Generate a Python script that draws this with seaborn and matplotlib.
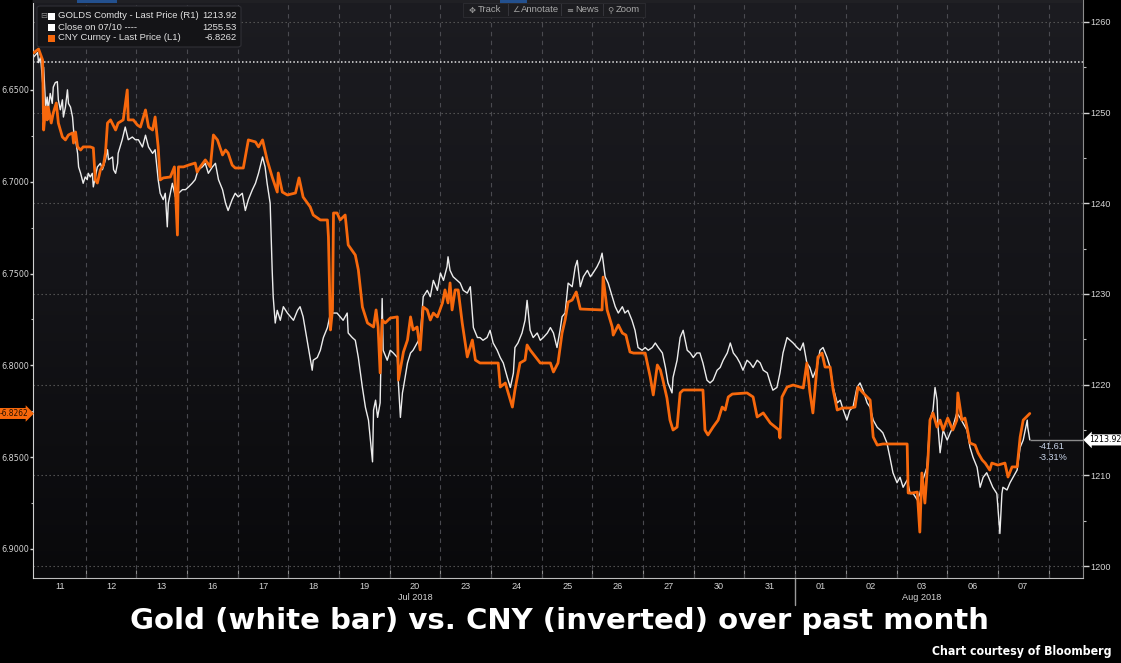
import numpy as np
import pandas as pd
import matplotlib
matplotlib.use('Agg')
import matplotlib.pyplot as plt
import matplotlib.transforms as mtransforms
from matplotlib.colors import LinearSegmentedColormap
from matplotlib.patches import Rectangle, FancyBboxPatch
import seaborn as sns

# ---- values ----
# x is the trading session (0 = 11 Jul 2018, 1 = 12 Jul, ...), fractions are intraday
cny_day = [-0.03, 0.07, 0.15, 0.17, 0.21, 0.24, 0.26, 0.32, 0.36, 0.42, 0.46, 0.54, 0.60, 0.66, 0.74, 0.76, 0.80, 0.84, 0.90, 0.95,
           1.09, 1.15, 1.19, 1.23, 1.29, 1.35, 1.39, 1.43, 1.49, 1.59, 1.64, 1.74, 1.82, 1.84, 1.94,
           2.02, 2.08, 2.18, 2.24, 2.32, 2.37, 2.43, 2.47, 2.53, 2.67, 2.75, 2.81, 2.83, 2.93,
           3.03, 3.16, 3.20, 3.26, 3.36, 3.46, 3.52, 3.60, 3.70, 3.76, 3.81, 3.89, 3.95,
           4.11, 4.21, 4.35, 4.41, 4.49, 4.58, 4.68, 4.78, 4.80, 4.88, 4.98,
           5.14, 5.21, 5.29, 5.43, 5.49, 5.63, 5.77, 5.79, 5.83, 5.87, 5.89, 5.96,
           6.02, 6.12, 6.18, 6.32, 6.38, 6.46, 6.56, 6.68, 6.73, 6.77, 6.81, 6.85, 6.91,
           7.01, 7.15, 7.17, 7.27, 7.35, 7.41, 7.46, 7.54, 7.60, 7.66, 7.74, 7.80, 7.86, 7.94,
           8.04, 8.09, 8.15, 8.19, 8.23, 8.29, 8.35, 8.43, 8.53, 8.63, 8.69, 8.78,
           9.14, 9.18, 9.28, 9.42, 9.47, 9.57, 9.67, 9.71, 9.77, 9.97,
           10.17, 10.23, 10.32, 10.40, 10.46, 10.52, 10.60, 10.68, 10.76,
           11.19, 11.21, 11.29, 11.39, 11.41, 11.51, 11.59, 11.66, 11.74, 11.81,
           12.04, 12.14, 12.20, 12.28, 12.34, 12.39, 12.47, 12.53, 12.59, 12.67, 12.73, 12.79,
           13.18, 13.22, 13.28, 13.38, 13.48, 13.56, 13.62, 13.68, 13.76,
           14.05, 14.17, 14.25, 14.37, 14.51, 14.68, 14.70, 14.74, 14.84, 14.96,
           15.16, 15.23, 15.29, 15.35, 15.45, 15.53, 15.59, 15.69, 15.75, 15.83, 15.93,
           16.08, 16.18, 16.24, 16.34, 16.48, 16.54, 16.62, 16.73,
           17.21, 17.23, 17.31, 17.41, 17.46, 17.50, 17.56, 17.62, 17.66, 17.72, 17.80, 17.86, 17.92,
           18.01, 18.11, 18.19, 18.21, 18.29, 18.35, 18.39, 18.45, 18.55, 18.61, 18.69, 18.75, 18.84, 18.88,
           19.00, 19.14, 19.20, 19.28, 19.38, 19.44, 19.50, 19.63]
cny_rate = [6.6298, 6.6277, 6.6337, 6.6718, 6.6593, 6.6663, 6.6593, 6.6680, 6.6625, 6.6571, 6.6680, 6.6756, 6.6772, 6.6745, 6.6734, 6.6789, 6.6729, 6.6810, 6.6827, 6.6810,
            6.6810, 6.6816, 6.6990, 6.7007, 6.6936, 6.6909, 6.6843, 6.6680, 6.6663, 6.6718, 6.6680, 6.6663, 6.6500, 6.6663, 6.6663,
            6.6691, 6.6702, 6.6609, 6.6702, 6.6718, 6.6647, 6.6810, 6.6990, 6.6979, 6.6974, 6.6919, 6.7290, 6.6919, 6.6919,
            6.6909, 6.6898, 6.6947, 6.6919, 6.6881, 6.6919, 6.6745, 6.6772, 6.6854, 6.6827, 6.6843, 6.6909, 6.6925,
            6.6925, 6.6772, 6.6783, 6.6810, 6.6772, 6.6881, 6.6974, 6.7056, 6.6952, 6.7056, 6.7072,
            6.7061, 6.6979, 6.7083, 6.7137, 6.7181, 6.7208, 6.7208, 6.7301, 6.7807, 6.7698, 6.7170, 6.7170,
            6.7208, 6.7181, 6.7344, 6.7399, 6.7480, 6.7682, 6.7769, 6.7791, 6.7698, 6.7791, 6.8041, 6.7753, 6.7769,
            6.7742, 6.7736, 6.8080, 6.7927, 6.7862, 6.7736, 6.7807, 6.7791, 6.7916, 6.7682, 6.7698, 6.7753, 6.7715, 6.7736,
            6.7660, 6.7589, 6.7660, 6.7551, 6.7698, 6.7589, 6.7589, 6.7769, 6.7954, 6.7862, 6.7971, 6.7987,
            6.7987, 6.8118, 6.8096, 6.8227, 6.8134, 6.7987, 6.7971, 6.7889, 6.7916, 6.7987,
            6.7987, 6.8036, 6.7987, 6.7824, 6.7753, 6.7655, 6.7644, 6.7600, 6.7693,
            6.7698, 6.7519, 6.7698, 6.7791, 6.7835, 6.7780, 6.7824, 6.7835, 6.7927, 6.7933,
            6.7933, 6.8063, 6.8161, 6.7998, 6.8025, 6.8080, 6.8178, 6.8298, 6.8352, 6.8336, 6.8150, 6.8134,
            6.8134, 6.8352, 6.8379, 6.8336, 6.8298, 6.8227, 6.8243, 6.8172, 6.8156,
            6.8150, 6.8172, 6.8281, 6.8259, 6.8314, 6.8352, 6.8396, 6.8172, 6.8118, 6.8107,
            6.8123, 6.7987, 6.8145, 6.8259, 6.7954, 6.7933, 6.8009, 6.8009, 6.8134, 6.8243, 6.8232,
            6.8232, 6.8227, 6.8118, 6.8150, 6.8189, 6.8390, 6.8434, 6.8428,
            6.8428, 6.8695, 6.8695, 6.8690, 6.8908, 6.8586, 6.8750, 6.8515, 6.8298, 6.8259, 6.8336, 6.8298, 6.8352,
            6.8287, 6.8352, 6.8298, 6.8150, 6.8298, 6.8287, 6.8336, 6.8423, 6.8434, 6.8477, 6.8515, 6.8532, 6.8570, 6.8532,
            6.8543, 6.8532, 6.8608, 6.8553, 6.8553, 6.8390, 6.8298, 6.8262]

gold_day = [-0.03, 0.05, 0.07, 0.11, 0.15, 0.17, 0.21, 0.24, 0.26, 0.30, 0.34, 0.36, 0.40, 0.44, 0.46, 0.50, 0.54, 0.56, 0.60, 0.64, 0.66, 0.70, 0.74, 0.76, 0.80, 0.84, 0.86, 0.90, 0.95, 0.99,
            1.03, 1.05, 1.09, 1.13, 1.15, 1.19, 1.23, 1.29, 1.33, 1.39, 1.43, 1.45, 1.53, 1.55, 1.59, 1.63, 1.64, 1.72, 1.78, 1.84, 1.92, 1.98,
            2.04, 2.12, 2.18, 2.24, 2.32, 2.37, 2.43, 2.47, 2.53, 2.57, 2.61, 2.63, 2.71, 2.77, 2.83, 2.91, 2.97,
            3.03, 3.10, 3.16, 3.22, 3.30, 3.36, 3.42, 3.50, 3.56, 3.62, 3.70, 3.76, 3.81, 3.89, 3.95,
            4.01, 4.09, 4.15, 4.21, 4.29, 4.35, 4.41, 4.49, 4.54, 4.58, 4.64, 4.68, 4.70, 4.74, 4.78, 4.84, 4.90, 4.98,
            5.04, 5.10, 5.18, 5.23, 5.29, 5.37, 5.43, 5.47, 5.49, 5.57, 5.63, 5.69, 5.77, 5.83, 5.89, 5.96,
            6.02, 6.08, 6.16, 6.18, 6.26, 6.32, 6.38, 6.46, 6.52, 6.58, 6.66, 6.68, 6.72, 6.76, 6.81, 6.85, 6.87, 6.95,
            7.01, 7.07, 7.15, 7.17, 7.21, 7.25, 7.27, 7.35, 7.41, 7.46, 7.54, 7.60, 7.66, 7.74, 7.80, 7.86, 7.94,
            8.00, 8.06, 8.13, 8.15, 8.19, 8.25, 8.33, 8.39, 8.45, 8.53, 8.59, 8.65, 8.73, 8.78, 8.84, 8.92, 8.98,
            9.04, 9.12, 9.18, 9.24, 9.32, 9.38, 9.44, 9.47, 9.53, 9.61, 9.67, 9.71, 9.77, 9.83, 9.91, 9.97,
            10.03, 10.11, 10.17, 10.23, 10.30, 10.36, 10.40, 10.46, 10.52, 10.60, 10.66, 10.70, 10.76, 10.82, 10.90, 10.96,
            11.01, 11.09, 11.15, 11.19, 11.25, 11.31, 11.39, 11.45, 11.51, 11.59, 11.64, 11.70, 11.78, 11.84, 11.90, 11.98,
            12.04, 12.10, 12.18, 12.24, 12.30, 12.38, 12.44, 12.49, 12.57, 12.59, 12.67, 12.73, 12.79, 12.87, 12.93, 12.99,
            13.06, 13.12, 13.18, 13.26, 13.32, 13.38, 13.46, 13.52, 13.58, 13.66, 13.72, 13.78, 13.85, 13.91, 13.97,
            14.05, 14.11, 14.17, 14.25, 14.31, 14.37, 14.45, 14.51, 14.56, 14.64, 14.70, 14.76, 14.84, 14.90, 14.96,
            15.04, 15.10, 15.16, 15.23, 15.29, 15.35, 15.43, 15.49, 15.55, 15.63, 15.69, 15.75, 15.83, 15.89, 15.95,
            16.02, 16.08, 16.14, 16.22, 16.28, 16.34, 16.42, 16.48, 16.54, 16.62, 16.68, 16.73, 16.81, 16.87, 16.93,
            17.01, 17.07, 17.13, 17.21, 17.27, 17.33, 17.41, 17.46, 17.52, 17.60, 17.66, 17.72, 17.76, 17.80, 17.82, 17.86, 17.92,
            18.00, 18.06, 18.11, 18.19, 18.25, 18.31, 18.39, 18.45, 18.51, 18.59, 18.65, 18.71, 18.78, 18.84, 18.90, 18.98,
            19.04, 19.08, 19.10, 19.18, 19.24, 19.30, 19.38, 19.44, 19.50, 19.58, 19.59, 19.63]
gold_price = [1256.1, 1256.6, 1255.5, 1256.1, 1253.3, 1255.0, 1250.6, 1251.7, 1250.3, 1252.1, 1251.0, 1252.8, 1253.3, 1253.4, 1251.4, 1250.3, 1251.4, 1249.5, 1250.6, 1252.5, 1251.0, 1250.6, 1249.5, 1248.1, 1247.0, 1245.5, 1244.0, 1243.3, 1242.2, 1242.9,
              1242.6, 1243.3, 1242.9, 1243.3, 1241.8, 1242.9, 1244.0, 1244.4, 1243.7, 1244.8, 1245.9, 1244.8, 1245.1, 1243.7, 1243.3, 1244.4, 1245.5, 1247.0, 1248.4, 1247.0, 1247.3, 1247.0,
              1247.0, 1246.2, 1247.5, 1246.2, 1245.5, 1245.9, 1242.6, 1241.1, 1240.4, 1241.1, 1237.4, 1240.0, 1242.2, 1240.7, 1241.1, 1241.5, 1241.5,
              1241.8, 1242.2, 1242.6, 1243.7, 1244.0, 1244.4, 1243.3, 1244.0, 1244.4, 1242.6, 1241.5, 1240.0, 1239.2, 1240.4, 1241.1,
              1240.7, 1241.1, 1239.2, 1240.4, 1241.5, 1242.2, 1243.3, 1245.1, 1244.0, 1242.2, 1240.0, 1232.6, 1229.7, 1226.8, 1228.2, 1227.1, 1228.6, 1227.9,
              1227.5, 1227.1, 1228.2, 1228.6, 1227.5, 1224.9, 1223.0, 1221.6, 1222.7, 1223.0, 1223.8, 1225.2, 1226.3, 1227.9, 1227.9, 1227.9,
              1227.5, 1227.1, 1227.9, 1225.7, 1225.2, 1224.9, 1223.0, 1219.7, 1217.5, 1216.1, 1211.5, 1217.2, 1218.3, 1216.4, 1218.0, 1229.5, 1223.8, 1222.7,
              1223.8, 1223.5, 1223.0, 1220.2, 1216.4, 1219.1, 1219.7, 1222.4, 1223.5, 1223.8, 1224.6, 1225.2, 1229.7, 1230.4, 1229.7, 1231.5, 1230.4,
              1232.3, 1231.5, 1233.0, 1234.1, 1232.6, 1231.9, 1231.5, 1231.2, 1230.4, 1230.1, 1230.8, 1226.3, 1225.2, 1225.2, 1224.9, 1225.2, 1226.0,
              1224.6, 1223.8, 1223.0, 1222.4, 1220.8, 1219.7, 1221.3, 1224.1, 1224.6, 1225.7, 1227.1, 1229.3, 1226.0, 1225.2, 1225.7, 1224.9,
              1225.2, 1225.7, 1226.3, 1225.7, 1224.1, 1226.0, 1227.5, 1227.9, 1231.2, 1230.8, 1233.0, 1233.7, 1230.8, 1231.9, 1232.6, 1231.9,
              1232.3, 1233.0, 1233.7, 1234.5, 1231.9, 1231.2, 1229.7, 1228.6, 1227.9, 1228.6, 1227.9, 1228.2, 1227.1, 1226.0, 1224.1, 1223.8,
              1224.1, 1223.8, 1224.1, 1224.6, 1224.1, 1223.5, 1221.9, 1220.2, 1219.1, 1220.8, 1222.7, 1225.2, 1226.0, 1223.8, 1223.5, 1223.0,
              1223.5, 1223.5, 1222.4, 1220.5, 1220.2, 1220.5, 1221.6, 1221.9, 1222.7, 1223.5, 1224.6, 1223.5, 1223.0, 1222.4, 1221.6,
              1222.7, 1222.4, 1221.9, 1222.7, 1222.4, 1221.6, 1221.3, 1220.2, 1219.4, 1219.7, 1221.3, 1223.5, 1225.2, 1224.9, 1224.6,
              1224.1, 1223.8, 1224.6, 1222.4, 1221.9, 1220.8, 1221.9, 1223.8, 1224.1, 1223.0, 1221.9, 1219.7, 1218.0, 1218.3, 1217.2,
              1216.1, 1217.2, 1217.5, 1219.7, 1220.2, 1219.4, 1218.0, 1217.5, 1216.1, 1215.3, 1215.0, 1214.7, 1213.6, 1212.0, 1210.3,
              1209.2, 1209.8, 1208.7, 1209.5, 1208.0, 1208.0, 1207.3, 1208.0, 1209.5, 1210.9, 1216.1, 1217.2, 1219.7, 1218.3, 1215.3, 1212.5, 1215.0,
              1213.9, 1214.7, 1215.3, 1216.9, 1216.4, 1215.8, 1215.0, 1213.1, 1212.0, 1210.9, 1208.7, 1209.8, 1210.3, 1209.5, 1208.7, 1208.0,
              1203.6, 1208.0, 1208.7, 1208.4, 1209.2, 1209.8, 1210.6, 1213.1, 1213.9, 1216.1, 1215.3, 1213.92]

session_labels = ['11', '12', '13', '16', '17', '18', '19', '20', '23', '24',
                  '25', '26', '27', '30', '31', '01', '02', '03', '06', '07']
month_labels = ['Jul 2018', 'Aug 2018']
month_label_session = [7, 17]
month_break_session = 15

cny_ticks = [6.65, 6.70, 6.75, 6.80, 6.85, 6.90]
gold_ticks = [1200, 1210, 1220, 1230, 1240, 1250, 1260]

gold_prev_close = 1255.53
gold_last = 1213.92
cny_last = 6.8262
gold_chg = -41.61
gold_chg_pct = -3.31

gold_df = pd.DataFrame({'day': gold_day, 'price': gold_price})
cny_df = pd.DataFrame({'day': cny_day, 'rate': cny_rate})

# ---- style ----
sns.set_style('dark', {'axes.facecolor': '#111114', 'figure.facecolor': 'black',
                       'text.color': 'white', 'xtick.color': '#d4d4d4', 'ytick.color': '#d4d4d4'})
plt.rcParams['font.family'] = ['Liberation Sans', 'DejaVu Sans']

ORANGE = '#f7680c'
W, H = 1121, 663
cond = dict(family='DejaVu Sans', fontstretch='condensed')


def fx(px):
    return px / W


def fy(py):
    return 1 - py / H


fig = plt.figure(figsize=(W / 100, H / 100), dpi=100, facecolor='black')
ax = fig.add_axes([fx(33), fy(578), fx(1083) - fx(33), fy(0) - fy(578)])
ax2 = ax.twinx()

x_lo, x_hi = -0.04, 20.68
gold_lim = (1198.7, 1262.4)
cny_lim = (6.9158, 6.601)

# background gradient of the plot panel
grad = np.linspace(0, 1, 256).reshape(-1, 1)
cmap = LinearSegmentedColormap.from_list('bg', ['#1c1c21', '#141418', '#09090b'])
ax.imshow(grad, extent=(0, 1, 0, 1), transform=ax.transAxes, aspect='auto',
          cmap=cmap, zorder=0, interpolation='bilinear')

# grid
for g in gold_ticks:
    ax.axhline(g, color='#5c5c5c', lw=0.8, ls=(0, (1.2, 2.4)), zorder=1)
for k in range(1, len(session_labels) + 1):
    ax.axvline(k, color='#4a4a50', lw=0.8, ls=(0, (4, 4)), zorder=1)
ax.axhline(gold_prev_close, color='#e2e2e2', lw=1.1, ls=(0, (1, 1.4)), zorder=2)

# series
sns.lineplot(data=gold_df, x='day', y='price', ax=ax, color='#ececec', lw=1.0,
             sort=False, estimator=None, legend=False, zorder=3)
sns.lineplot(data=cny_df, x='day', y='rate', ax=ax2, color=ORANGE, lw=2.0,
             sort=False, estimator=None, legend=False, zorder=4)

ax.hlines(gold_last, gold_day[-1], x_hi, color='#8c8c8c', lw=1, zorder=2)

# axes layout
ax.yaxis.tick_right()
ax2.yaxis.tick_left()
ax.set_xlim(x_lo, x_hi)
ax.set_ylim(*gold_lim)
ax2.set_ylim(*cny_lim)
ax.set_xlabel('')
ax.set_ylabel('')
ax2.set_ylabel('')

ax.set_yticks(gold_ticks)
ax.set_yticks([(a + b) / 2 for a, b in zip(gold_ticks[:-1], gold_ticks[1:])], minor=True)
ax.set_yticklabels([str(g) for g in gold_ticks])
ax2.set_yticks(cny_ticks)
ax2.set_yticks([(a + b) / 2 for a, b in zip(cny_ticks[:-1], cny_ticks[1:])], minor=True)
ax2.set_yticklabels([f'{c:.4f}' for c in cny_ticks], **cond)

ax.set_xticks([i + 0.5 for i in range(len(session_labels))])
ax.set_xticklabels(session_labels)
ax.set_xticks(range(1, len(session_labels) + 1), minor=True)

tick_font = 6.6
ax.tick_params(axis='y', which='major', length=4, width=1, pad=1.5, colors='#d4d4d4',
               labelsize=tick_font, right=True, left=False)
ax.tick_params(axis='y', which='minor', length=2, width=0.8, color='#bbbbbb', right=True, left=False)
ax2.tick_params(axis='y', which='major', length=2.2, width=1, pad=0.8, colors='#d4d4d4',
                labelsize=6.5, left=True, right=False)
ax2.tick_params(axis='y', which='minor', length=1.5, width=0.8, color='#bbbbbb', left=True, right=False)
ax.tick_params(axis='x', which='major', length=0, pad=3, labelsize=tick_font, colors='#d4d4d4')
ax.tick_params(axis='x', which='minor', direction='in', length=6, width=0.8, color='#8a8a8a', bottom=True)

for side in ['top', 'left']:
    ax.spines[side].set_visible(False)
ax.spines['right'].set_color('#8c8c8c')
ax.spines['bottom'].set_color('#bdbdbd')
for side in ['top', 'right', 'bottom']:
    ax2.spines[side].set_visible(False)
ax2.spines['left'].set_color('#d0d0d0')
ax.grid(False)
ax2.grid(False)

# month labels and month break
trans = mtransforms.blended_transform_factory(ax.transData, fig.transFigure)
for lab, s in zip(month_labels, month_label_session):
    ax.text(s + 0.5, fy(598), lab, transform=trans, ha='center', va='center',
            fontsize=tick_font, color='#d4d4d4')
ax.plot([month_break_session] * 2, [fy(578), fy(605)], transform=trans,
        color='#9a9a9a', lw=1, clip_on=False)
ax.set_xlim(x_lo, x_hi)
ax.set_ylim(*gold_lim)

# price tags on the axes
ax.annotate(f'{gold_last:.2f}', xy=(1, gold_last), xycoords=('axes fraction', 'data'),
            xytext=(4.5, 0), textcoords='offset points', ha='left', va='center',
            fontsize=6.3, color='black', annotation_clip=False,
            bbox=dict(boxstyle='larrow,pad=0.12', fc='white', ec='none'), **cond)
ax2.annotate(f'-{cny_last:.4f}', xy=(0, cny_last), xycoords=('axes fraction', 'data'),
             xytext=(-3.5, 0), textcoords='offset points', ha='right', va='center',
             fontsize=6.0, color='#2a1200', annotation_clip=False,
             bbox=dict(boxstyle='rarrow,pad=0.12', fc=ORANGE, ec='none'), **cond)
ax.annotate(f'{gold_chg:.2f}', xy=(gold_day[-1], gold_last), xytext=(6, -5),
            textcoords='offset points', ha='left', va='center', fontsize=tick_font, color='#c9d5ea')
ax.annotate(f'{gold_chg_pct:.2f}%', xy=(gold_day[-1], gold_last), xytext=(6, -13),
            textcoords='offset points', ha='left', va='center', fontsize=tick_font, color='#c9d5ea')

# top strip
fig.patches.append(Rectangle((fx(33), fy(3)), fx(1083) - fx(33), 3 / H, transform=fig.transFigure,
                             fc='#202024', ec='none', zorder=5))
for a, b in [(77, 117), (500, 527)]:
    fig.patches.append(Rectangle((fx(a), fy(3)), (b - a) / W, 3 / H, transform=fig.transFigure,
                                 fc='#23508e', ec='none', zorder=6))

# legend panel
fig.patches.append(FancyBboxPatch((fx(37), fy(47)), (241 - 37) / W, 41 / H,
                                  boxstyle='round,pad=0,rounding_size=0.003',
                                  transform=fig.transFigure, fc='#141417', ec='#303036',
                                  lw=0.8, zorder=7))
legend_rows = [('GOLDS Comdty - Last Price (R1)', f'{gold_last:.2f}', 'white', 16),
               ('Close on 07/10 ----', f'{gold_prev_close:.2f}', 'white', 27),
               ('CNY Curncy - Last Price (L1)', f'-{cny_last:.4f}', ORANGE, 38)]
for label, val, col, yy in legend_rows:
    fig.patches.append(Rectangle((fx(48), fy(yy + 3.5)), 7 / W, 7 / H, transform=fig.transFigure,
                                 fc=col, ec='none', zorder=8))
    fig.text(fx(58), fy(yy), label, ha='left', va='center', fontsize=6.8,
             color='#e2e2e2', zorder=9)
    fig.text(fx(237), fy(yy), val, ha='right', va='center', fontsize=6.8,
             color='#e2e2e2', zorder=9)
fig.text(fx(40), fy(16), '⊟', ha='left', va='center', fontsize=6, color='#8a8a8a',
         family='DejaVu Sans', zorder=9)

# toolbar
fig.patches.append(Rectangle((fx(463), fy(17)), (645 - 463) / W, 14 / H, transform=fig.transFigure,
                             fc='#1c1c20', ec='#2e2e33', lw=0.6, zorder=7))
tools = [('✥', 'Track', 469, 508), ('∠', 'Annotate', 512, 561), ('≡', 'News', 566, 603), ('⚲', 'Zoom', 607, 645)]
for icon, name, x0, x1 in tools:
    fig.text(fx(x0), fy(10), icon, ha='left', va='center', fontsize=6, color='#9a9a9a',
             family='DejaVu Sans', zorder=9)
    fig.text(fx(x0 + 9), fy(10), name, ha='left', va='center', fontsize=6.8,
             color='#a8a8a8', zorder=9)
    if x1 < 645:
        fig.patches.append(Rectangle((fx(x1), fy(16)), 1 / W, 12 / H, transform=fig.transFigure,
                                     fc='#34343a', ec='none', zorder=8))

# caption
fig.text(fx(559), fy(621), 'Gold (white bar) vs. CNY (inverted) over past month',
         ha='center', va='center', fontsize=21, fontweight='bold', color='white',
         family='DejaVu Sans')
fig.text(fx(1112), fy(651), 'Chart courtesy of Bloomberg', ha='right', va='center',
         fontsize=8.8, fontweight='bold', color='white', **cond)

fig.savefig('out.png', dpi=100, facecolor='black')
